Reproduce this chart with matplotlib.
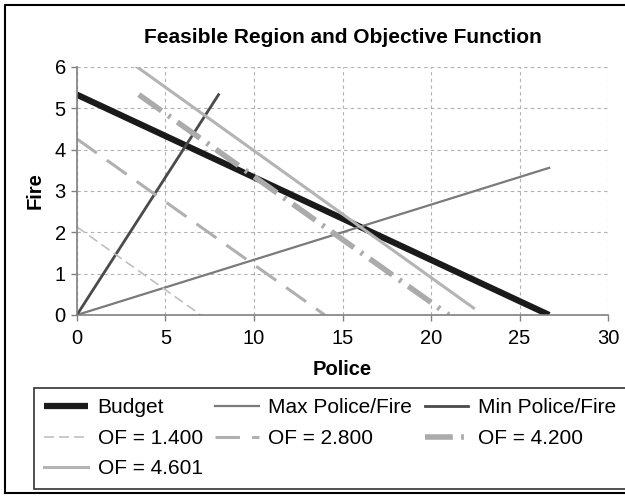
import matplotlib
matplotlib.use("Agg")
import matplotlib.pyplot as plt
from matplotlib.lines import Line2D

plt.rcParams["font.family"] = ["Liberation Sans", "DejaVu Sans"]

# ─── Data: line endpoints (Police, Fire) ─────────────────────────────────────
budget_x = [0, 26.67]
budget_y = [5.33, 0]
max_pf_x = [0, 26.67]
max_pf_y = [0, 3.56]
min_pf_x = [0, 8.0]
min_pf_y = [0, 5.33]
of_1400_x = [0, 7.0]
of_1400_y = [2.13, 0]
of_2800_x = [0, 14.0]
of_2800_y = [4.26, 0]
of_4200_x = [3.5, 21.0]
of_4200_y = [5.33, 0]
of_4601_x = [3.4, 22.4]
of_4601_y = [6.0, 0.17]

fig = plt.figure(figsize=(6.25, 4.98), dpi=100)
ax = fig.add_axes([0.123, 0.3675, 0.850, 0.498])

h_budget, = ax.plot(budget_x, budget_y, color="#1a1a1a", lw=4.5, label="Budget",
                    solid_capstyle="butt")
h_max, = ax.plot(max_pf_x, max_pf_y, color="#7a7a7a", lw=1.6, label="Max Police/Fire")
h_min, = ax.plot(min_pf_x, min_pf_y, color="#4a4a4a", lw=2.0, label="Min Police/Fire")
h_1400, = ax.plot(of_1400_x, of_1400_y, color="#c0c0c0", lw=1.2, ls=(0, (6, 3)),
                  label="OF = 1.400")
h_2800, = ax.plot(of_2800_x, of_2800_y, color="#b0b0b0", lw=2.2, ls=(0, (8, 4)),
                  label="OF = 2.800")
h_4200, = ax.plot(of_4200_x, of_4200_y, color="#ababab", lw=4.0,
                  ls=(0, (5, 1.5, 0.5, 1.5)), label="OF = 4.200")
h_4601, = ax.plot(of_4601_x, of_4601_y, color="#b4b4b4", lw=2.2, label="OF = 4.601")

ax.set_xlim(0, 30)
ax.set_ylim(0, 6)
ax.set_xticks(range(0, 31, 5))
ax.set_yticks(range(0, 7))
ax.grid(True, color="#b0b0b0", ls=(0, (3, 3)), lw=0.8)
ax.set_axisbelow(True)
for side in ("top", "right"):
    ax.spines[side].set_visible(False)
for side in ("left", "bottom"):
    ax.spines[side].set_color("#808080")
    ax.spines[side].set_linewidth(1.2)
ax.tick_params(axis="both", labelsize=14.5, color="#808080", length=4, width=1.0)
ax.tick_params(axis="x", pad=6)
ax.tick_params(axis="y", pad=4)

ax.set_title("Feasible Region and Objective Function", fontsize=15,
             fontweight="bold", pad=17)
ax.set_xlabel("Police", fontsize=14.5, fontweight="bold", labelpad=9)
ax.set_ylabel("Fire", fontsize=14.5, fontweight="bold", labelpad=7)

# matplotlib fills legend columns first: reorder so rows read left to right
handles = [h_budget, h_1400, h_4601, h_max, h_2800, h_min, h_4200]
leg = fig.legend(handles=handles, labels=[h.get_label() for h in handles],
                 loc="upper left", bbox_to_anchor=(34 / 625, 1 - 388 / 498),
                 ncol=3, fontsize=15, frameon=True, fancybox=False,
                 handlelength=2.1, handletextpad=0.45, columnspacing=0.6,
                 labelspacing=0.55, borderaxespad=0, borderpad=0.5)
leg.get_frame().set_edgecolor("black")
leg.get_frame().set_linewidth(1.2)

# outer chart border (right side runs off the page in the original)
fig.add_artist(Line2D([0.008, 0.008, 1.0], [0.01, 0.99, 0.99], transform=fig.transFigure,
                      color="black", lw=1.5))
fig.add_artist(Line2D([0.008, 1.0], [0.01, 0.01], transform=fig.transFigure,
                      color="black", lw=1.5))

fig.savefig("out.png", dpi=100)
